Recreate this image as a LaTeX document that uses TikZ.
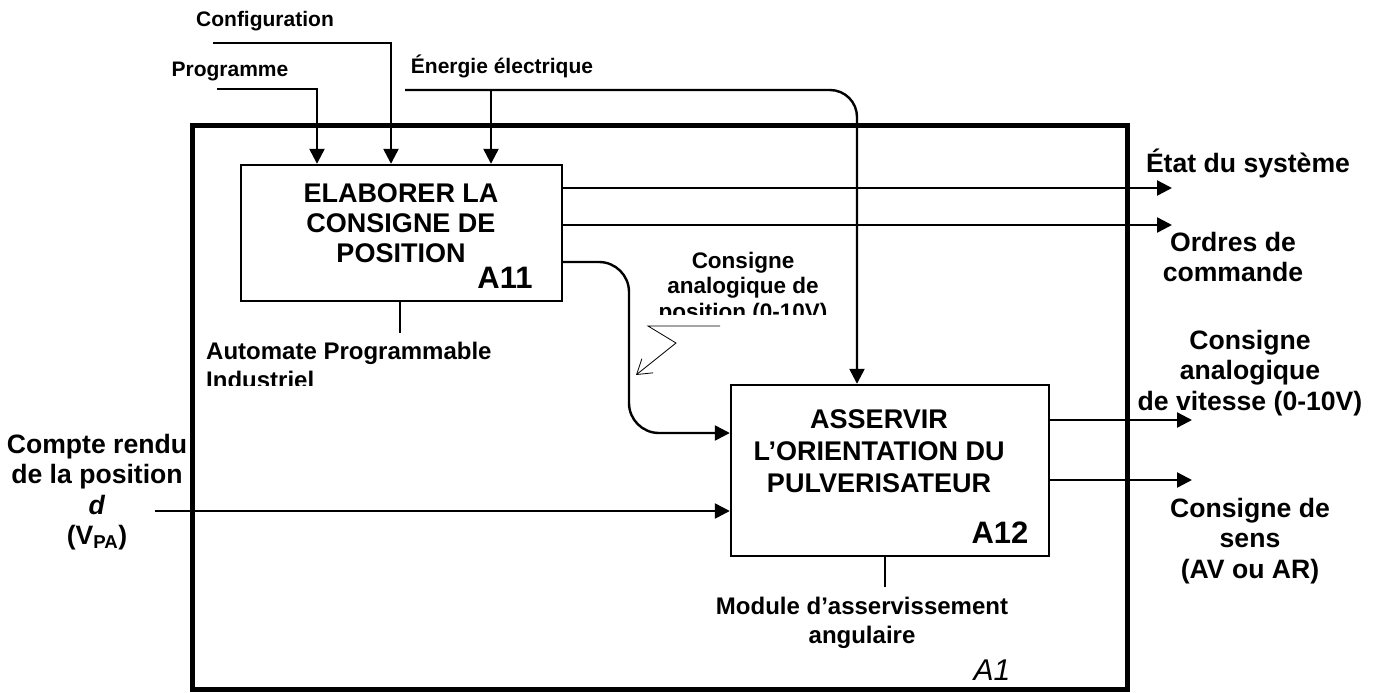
\documentclass[tikz,border=0pt]{standalone}
\usepackage{fontspec}
\setmainfont{Liberation Sans}
\usetikzlibrary{arrows.meta,positioning,calc}

\begin{document}
\begin{tikzpicture}[x=1pt,y=-1pt]
	\tikzset{
		fleche/.style={line width=2.4pt,-{Triangle[length=15pt,width=15pt]}},
		meca/.style={line width=1.8pt},
		eclair/.style={line width=0.8pt,-{Straight Barb[length=14pt,width=18pt]}},
		boite/.style={draw,line width=2.4pt,inner sep=0pt},
		cadre/.style={draw,line width=5pt,inner sep=0pt},
		titre/.style={font=\fontsize{27}{30}\selectfont\bfseries,align=center,inner sep=0pt},
		numero/.style={font=\fontsize{31}{34}\selectfont\bfseries,inner sep=0pt},
		stylefont/.style={font=\fontsize{26.6}{30.5}\selectfont\bfseries,align=center,inner sep=0pt},
		petit/.style={font=\fontsize{21}{24}\selectfont\bfseries,inner sep=0pt},
		support/.style={font=\fontsize{24}{29}\selectfont\bfseries,inner sep=0pt}
	}
	\useasboundingbox (0,0) rectangle (1377,693);
	%%%Cadre A1
	\node[cadre,minimum width=935pt,minimum height=564pt] (a1) at (659.5,407) {};
	\node[font=\fontsize{30}{36}\selectfont\itshape,inner sep=0pt] (na1) at (992,670) {A1};
	%%%Boite A11
	\node[boite,minimum width=321pt,minimum height=136pt] (a11) at (401.5,233) {};
	\node[titre] (ta11) at (401,223) {ELABORER LA\\CONSIGNE DE\\POSITION};
	\node[numero] (na11) at (505,278) {A11};
	%%%Boite A12
	\node[boite,minimum width=318pt,minimum height=171pt] (a12) at (890,470.5) {};
	\node[titre,font=\fontsize{27}{32}\selectfont\bfseries] (ta12) at (879,451) {ASSERVIR\\L’ORIENTATION DU\\PULVERISATEUR};
	\node[numero] (na12) at (1000,533) {A12};
	%%%Donnees de controle
	\node[petit] (lconf) at (265,21) {Configuration};
	\node[petit] (lprog) at (230,72) {Programme};
	\node[petit] (lener) at (502,66) {Énergie électrique};
	\coordinate (conf0) at (213,43);
	\coordinate (prog0) at (217,89);
	\coordinate (ener0) at (405,90);
	\coordinate (enerb) at (491,90);
	\draw[fleche] (prog0) -| (317,0 |- a11.north);
	\draw[fleche] (conf0) -| (391,0 |- a11.north);
	\draw[fleche] (enerb) -- (491,0 |- a11.north);
	\draw[fleche,rounded corners=27pt] (ener0) -| (857,0 |- a12.north);
	%%%Sorties de A11
	\coordinate (etat) at (1172,188);
	\coordinate (ordres) at (1172,225);
	\draw[fleche] (a11.east |- etat) -- (etat);
	\draw[fleche] (a11.east |- ordres) -- (ordres);
	\node[stylefont] (letat) at (1248,163) {État du système};
	\node[stylefont] (lordres) at (1233,257) {Ordres de\\commande};
	%%%Consigne de position
	\draw[fleche,rounded corners=30pt] (a11.east |- 0,262) -| (629,433) -- (a12.west |- 0,433);
	\begin{scope}
		\clip (600,230) rectangle (900,314);
		\node[font=\fontsize{22.5}{25.5}\selectfont\bfseries,align=center,inner sep=0pt] (lpos) at (743,288) {Consigne\\analogique de\\position (0-10V)};
	\end{scope}
	\coordinate (z1) at (720,326);
	\coordinate (z2) at (648,326);
	\coordinate (z3) at (676,343);
	\coordinate (z4) at (636,375);
	\draw[eclair] (z1) -- (z2) -- (z3) -- (z4);
	%%%Compte rendu
	\coordinate (cr0) at (155,511);
	\draw[fleche] (cr0) -- (a12.west |- cr0);
	\node[stylefont] (lcr) at (97,492) {Compte rendu\\de la position\\\textit{d}\\(V\textsubscript{PA})};
	%%%Sorties de A12
	\coordinate (vit) at (1192,420);
	\coordinate (sens) at (1192,480);
	\draw[fleche] (a12.east |- vit) -- (vit);
	\draw[fleche] (a12.east |- sens) -- (sens);
	\node[stylefont] (lvit) at (1250,373) {Consigne\\analogique\\de vitesse (0-10V)};
	\node[stylefont] (lsens) at (1250,541) {Consigne de\\sens\\(AV ou AR)};
	%%%Supports
	\coordinate (api) at (400,333);
	\coordinate (mod) at (885,587);
	\draw[meca] (a11.south -| api) -- (api);
	\draw[meca] (a12.south -| mod) -- (mod);
	\begin{scope}
		\clip (150,330) rectangle (600,385);
		\node[support,align=left,anchor=west] (lapi) at (206,365) {Automate Programmable\\Industriel};
	\end{scope}
	\node[support,align=center] (lmod) at (862,623) {Module d’asservissement\\angulaire};
\end{tikzpicture}
\end{document}
